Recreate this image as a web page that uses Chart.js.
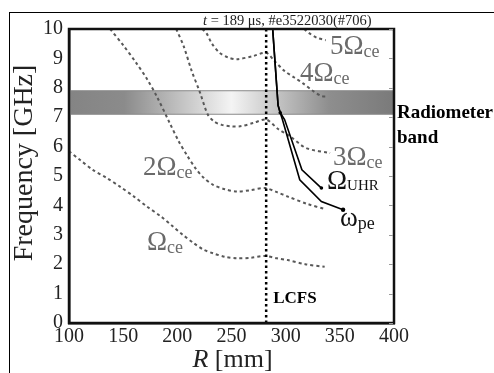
<!DOCTYPE html>
<html><head><meta charset="utf-8">
<script src="https://cdn.jsdelivr.net/npm/chart.js@4"></script>
<style>
html,body{margin:0;padding:0;background:#fff;}
#wrap{position:relative;width:494px;height:373px;overflow:hidden;background:#fff;}
#frame{position:absolute;left:9px;top:12px;width:700px;height:700px;border-left:1.5px solid #000;border-top:1.5px solid #000;pointer-events:none;}
canvas{position:absolute;left:0;top:0;}
</style></head><body>
<div id="wrap"><canvas id="c" width="494" height="373"></canvas><div id="frame"></div></div>
<script>
// ---- data (R in mm, frequency in GHz) ----
const xTicks = [100,150,200,250,300,350,400];
const yTicks = [0,1,2,3,4,5,6,7,8,9,10];

const ce1R = [100,110,122,135,147,160,172,185,196,205,215,224,233,244,255,268,281,292,302,318,336];
const ce1F = [5.84,5.55,5.21,4.93,4.64,4.30,3.96,3.62,3.28,3.00,2.72,2.50,2.37,2.25,2.20,2.22,2.28,2.20,2.14,2.00,1.91];

const ce2R = [138,150,162,172,181,193,201,209,217,224,233,244,255,268,281,292,302,320,337];
const ce2F = [10,9.45,8.85,8.30,7.71,6.80,6.20,5.70,5.25,4.95,4.70,4.55,4.47,4.52,4.59,4.45,4.30,4.05,3.87];

const ce3R = [199,206,213,221,228,234,241,250,258,270,282,293,304,319,341];
const ce3F = [10,9.40,8.60,7.83,7.10,6.85,6.74,6.69,6.69,6.80,6.92,6.60,6.35,5.95,5.78];

const ce4R = [223,227,232,239,247,255,270,282,290,299,308,316,325,333,339];
const ce4F = [10,9.85,9.50,9.19,9.03,8.97,9.08,9.19,8.90,8.57,8.35,8.15,7.90,7.72,7.70];

const ce5R = [317,322,329,337];
const ce5F = [10,9.85,9.70,9.62];

const uhrR = [288,293,295,299,315,333];
const uhrF = [10,7.40,7.15,6.92,5.21,4.59];

const wpeR = [288,293,295,297,313,333,353];
const wpeF = [10,7.40,7.15,6.92,4.87,4.13,3.85];

const lcfsR = 282;
const bandLo = 7.1, bandHi = 7.9;
const xMin = 100, xMax = 400, yMin = 0, yMax = 10;

// ---- labels (text, anchored in data units) ----
const curveLabels = [
  {main:'5Ω', sub:'ce', r:340.9, f:9.14, color:'#6a6a6a'},
  {main:'4Ω', sub:'ce', r:313.2, f:8.22, color:'#6a6a6a'},
  {main:'3Ω', sub:'ce', r:343.7, f:5.38, color:'#6a6a6a'},
  {main:'2Ω', sub:'ce', r:168.3, f:5.04, color:'#6a6a6a'},
  {main:'Ω',  sub:'ce', r:172.0, f:2.48, color:'#6a6a6a'},
  {main:'Ω',  sub:'UHR', r:338.2, f:4.55, color:'#111', subFont:'15px "Liberation Serif"', subDy:1},
  {main:'ω',  sub:'pe', r:350.2, f:3.30, color:'#111'}
];

const pts = (R,F) => R.map((r,i)=>({x:r,y:F[i]}));
const SERIF = '"Liberation Serif", "DejaVu Serif", serif';

const dashed = (R,F) => ({data:pts(R,F), borderColor:'#585858', borderWidth:2, borderDash:[3,3],
  pointRadius:0, tension:0.3, fill:false, order:5});

function bandGradient(ctx){
  const ch = ctx.chart, ca = ch.chartArea;
  if(!ca) return '#aaa';
  const g = ch.ctx.createLinearGradient(ca.left,0,ca.right,0);
  g.addColorStop(0,'#848484');
  g.addColorStop(0.17,'#8b8b8b');
  g.addColorStop(0.5,'#f4f4f4');
  g.addColorStop(0.8,'#8e8e8e');
  g.addColorStop(1,'#7a7a7a');
  return g;
}

const textPlugin = {
  id:'texts',
  afterDraw(chart){
    const {ctx, chartArea:ca, scales:{x,y}} = chart;
    ctx.save();
    // frame of plot
    ctx.strokeStyle='#111'; ctx.lineWidth=2.5;
    ctx.strokeRect(ca.left, ca.top, ca.right-ca.left, ca.bottom-ca.top);
    // inward ticks on right side
    ctx.strokeStyle='#999'; ctx.lineWidth=1;
    yTicks.forEach(v=>{const py=Math.round(y.getPixelForValue(v))+0.5;
      ctx.beginPath(); ctx.moveTo(ca.right-5,py); ctx.lineTo(ca.right-1,py); ctx.stroke();});
    // curve labels
    ctx.textBaseline='alphabetic'; ctx.textAlign='left';
    curveLabels.forEach(L=>{
      const px=x.getPixelForValue(L.r), py=y.getPixelForValue(L.f);
      ctx.fillStyle=L.color;
      ctx.font='27px '+SERIF;
      ctx.fillText(L.main, px, py);
      const w=ctx.measureText(L.main).width;
      ctx.font=L.subFont||('18px '+SERIF);
      ctx.fillText(L.sub, px+w, py+(L.subDy!==undefined?L.subDy:3));
    });
    // LCFS
    ctx.fillStyle='#000'; ctx.font='bold 17px '+SERIF;
    ctx.fillText('LCFS', x.getPixelForValue(lcfsR)+7, y.getPixelForValue(0.67));
    // Radiometer band label
    ctx.font='bold 19px '+SERIF;
    ctx.fillText('Radiometer', ca.right+3, y.getPixelForValue(bandLo)+4);
    ctx.fillText('band', ca.right+3, y.getPixelForValue(bandLo)+29);
    // title
    ctx.font='italic 14.5px '+SERIF; ctx.fillStyle='#222';
    let tx=203, ty=25;
    ctx.fillText('t', tx, ty); tx+=ctx.measureText('t').width;
    ctx.font='14.5px '+SERIF;
    ctx.fillText(' = 189 μs, #e3522030(#706)', tx, ty);
    // axis titles
    ctx.fillStyle='#222';
    ctx.font='28px '+SERIF;
    ctx.save(); ctx.translate(32,163); ctx.rotate(-Math.PI/2); ctx.textAlign='center';
    ctx.fillText('Frequency [GHz]',0,0); ctx.restore();
    ctx.font='italic 26px '+SERIF;
    const rW=ctx.measureText('R').width;
    ctx.font='26px '+SERIF;
    const restW=ctx.measureText(' [mm]').width;
    let sx=232.5-(rW+restW)/2;
    ctx.font='italic 26px '+SERIF; ctx.fillText('R', sx, 367);
    ctx.font='26px '+SERIF; ctx.fillText(' [mm]', sx+rW, 367);
    ctx.restore();
  }
};

new Chart(document.getElementById('c'), {
  type:'line',
  data:{datasets:[
    {data:pts(wpeR,wpeF), borderColor:'#000', borderWidth:1.6, tension:0, fill:false, order:1,
     pointRadius:[0,0,1.8,0,0,0,2.2], pointBackgroundColor:'#000', pointBorderWidth:0},
    {data:pts(uhrR,uhrF), borderColor:'#000', borderWidth:1.6, tension:0, fill:false, order:1,
     pointRadius:[0,0,0,0,0,1.8], pointBackgroundColor:'#000', pointBorderWidth:0},
    {data:[{x:lcfsR,y:yMin},{x:lcfsR,y:yMax}], borderColor:'#000', borderWidth:2.5, borderDash:[2.5,3],
     pointRadius:0, fill:false, order:2},
    dashed(ce1R,ce1F), dashed(ce2R,ce2F), dashed(ce3R,ce3F), dashed(ce4R,ce4F), dashed(ce5R,ce5F),
    {data:[{x:xMin,y:bandHi},{x:xMax,y:bandHi}], borderColor:'#8a8a8a', borderWidth:1, pointRadius:0,
     fill:{value:bandLo}, backgroundColor:bandGradient, order:20},
    {data:[{x:xMin,y:bandLo},{x:xMax,y:bandLo}], borderColor:'#8a8a8a', borderWidth:1, pointRadius:0,
     fill:false, order:19}
  ]},
  options:{
    responsive:false, animation:false, devicePixelRatio:1,
    layout:{padding:{left:0, top:29, right:100, bottom:0}},
    plugins:{legend:{display:false}, tooltip:{enabled:false}, title:{display:false}},
    scales:{
      x:{type:'linear', min:xMin, max:xMax,
        afterBuildTicks(s){ s.ticks = xTicks.map(v=>({value:v})); },
        afterFit(s){ s.height = 50; },
        grid:{display:true, drawOnChartArea:false, drawTicks:false},
        border:{display:true, color:'#111', width:2.5},
        ticks:{color:'#222', padding:2, font:{family:SERIF, size:20}, maxRotation:0, autoSkip:false}},
      y:{type:'linear', min:yMin, max:yMax,
        afterBuildTicks(s){ s.ticks = yTicks.map(v=>({value:v})); },
        afterFit(s){ s.width = 69; },
        grid:{display:true, drawOnChartArea:false, drawTicks:false},
        border:{display:true, color:'#111', width:2.5},
        ticks:{color:'#222', padding:6, font:{family:SERIF, size:20}, autoSkip:false}}
    }
  },
  plugins:[textPlugin]
});
</script>
</body></html>
